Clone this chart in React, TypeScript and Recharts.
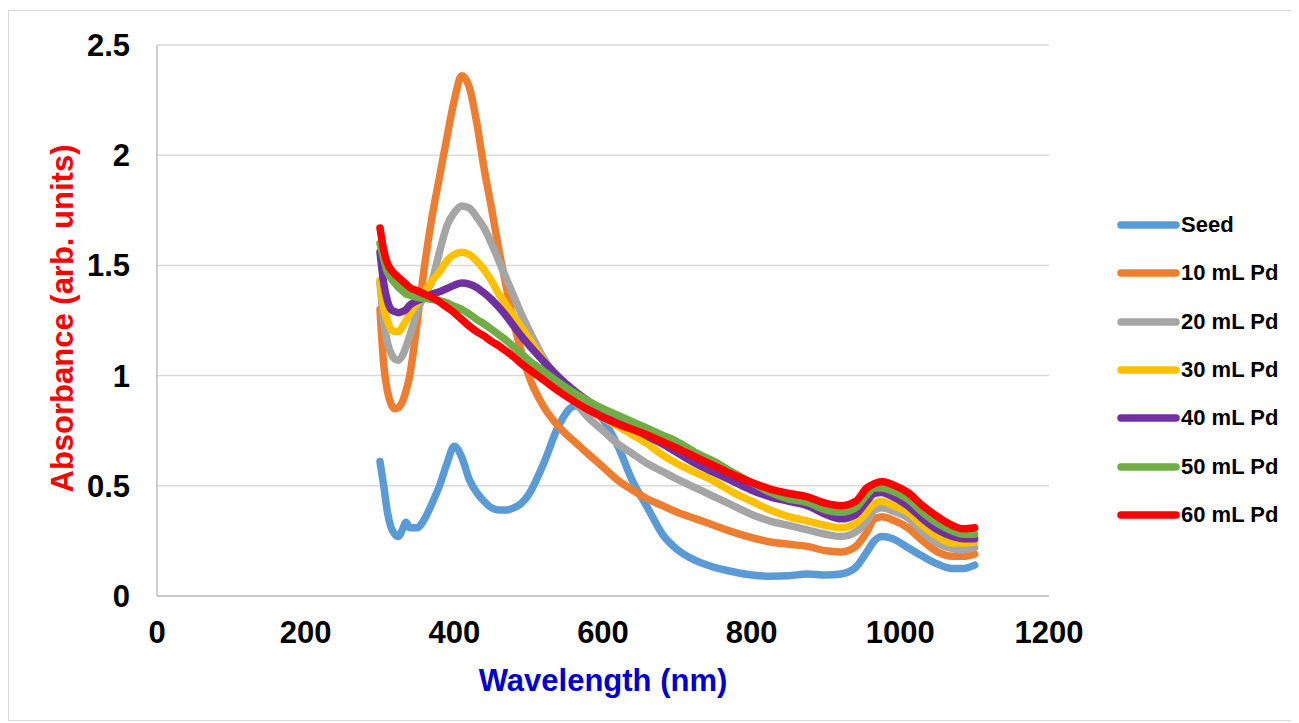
import React from 'react';
import { LineChart, Line, XAxis, YAxis, CartesianGrid, Legend } from 'recharts';

const wavelengths = [300, 305, 310, 315, 320, 325, 330, 335, 340, 350, 360, 370, 380, 390, 400, 410, 420, 430, 440, 450, 460, 470, 480, 490, 500, 520, 540, 560, 580, 600, 620, 640, 660, 680, 700, 725, 750, 775, 800, 825, 850, 875, 900, 920, 940, 955, 965, 975, 990, 1010, 1030, 1050, 1070, 1085, 1100];

const seed = [0.61, 0.50, 0.38, 0.31, 0.28, 0.27, 0.30, 0.335, 0.31, 0.31, 0.35, 0.42, 0.50, 0.60, 0.68, 0.63, 0.53, 0.47, 0.43, 0.40, 0.39, 0.39, 0.40, 0.42, 0.46, 0.60, 0.77, 0.86, 0.87, 0.80, 0.68, 0.52, 0.40, 0.28, 0.21, 0.16, 0.13, 0.11, 0.095, 0.09, 0.092, 0.10, 0.095, 0.10, 0.13, 0.20, 0.25, 0.27, 0.26, 0.22, 0.18, 0.145, 0.125, 0.125, 0.14];
const pd10 = [1.30, 1.05, 0.93, 0.87, 0.85, 0.855, 0.88, 0.93, 1.00, 1.24, 1.50, 1.72, 1.90, 2.08, 2.25, 2.36, 2.31, 2.15, 1.94, 1.76, 1.57, 1.40, 1.24, 1.11, 1.00, 0.86, 0.77, 0.705, 0.645, 0.585, 0.525, 0.48, 0.44, 0.41, 0.38, 0.35, 0.32, 0.29, 0.265, 0.245, 0.235, 0.225, 0.205, 0.20, 0.225, 0.29, 0.35, 0.36, 0.345, 0.31, 0.25, 0.20, 0.18, 0.18, 0.19];
const pd20 = [1.42, 1.25, 1.15, 1.10, 1.075, 1.07, 1.09, 1.13, 1.18, 1.29, 1.37, 1.43, 1.56, 1.68, 1.74, 1.77, 1.76, 1.72, 1.67, 1.60, 1.52, 1.44, 1.36, 1.28, 1.21, 1.08, 0.98, 0.89, 0.81, 0.75, 0.69, 0.645, 0.60, 0.565, 0.53, 0.49, 0.45, 0.41, 0.37, 0.34, 0.32, 0.30, 0.28, 0.27, 0.29, 0.34, 0.39, 0.40, 0.385, 0.355, 0.29, 0.24, 0.215, 0.21, 0.22];
const pd30 = [1.43, 1.31, 1.25, 1.21, 1.20, 1.20, 1.22, 1.25, 1.28, 1.33, 1.38, 1.43, 1.47, 1.52, 1.55, 1.56, 1.55, 1.52, 1.48, 1.43, 1.37, 1.32, 1.27, 1.22, 1.17, 1.07, 0.985, 0.915, 0.86, 0.81, 0.77, 0.73, 0.69, 0.64, 0.60, 0.56, 0.52, 0.47, 0.43, 0.39, 0.36, 0.34, 0.32, 0.31, 0.33, 0.38, 0.42, 0.43, 0.41, 0.38, 0.32, 0.27, 0.24, 0.24, 0.245];
const pd40 = [1.56, 1.42, 1.34, 1.30, 1.29, 1.285, 1.29, 1.30, 1.32, 1.34, 1.355, 1.37, 1.38, 1.395, 1.41, 1.42, 1.415, 1.40, 1.375, 1.345, 1.31, 1.27, 1.225, 1.18, 1.14, 1.065, 0.995, 0.935, 0.885, 0.84, 0.80, 0.765, 0.725, 0.69, 0.65, 0.60, 0.56, 0.52, 0.48, 0.45, 0.43, 0.41, 0.37, 0.35, 0.37, 0.43, 0.465, 0.47, 0.45, 0.41, 0.35, 0.30, 0.27, 0.26, 0.26];
const pd50 = [1.60, 1.53, 1.47, 1.44, 1.42, 1.40, 1.385, 1.37, 1.365, 1.355, 1.35, 1.345, 1.34, 1.33, 1.315, 1.30, 1.28, 1.255, 1.235, 1.21, 1.185, 1.16, 1.13, 1.10, 1.07, 1.02, 0.97, 0.925, 0.885, 0.85, 0.82, 0.79, 0.76, 0.73, 0.70, 0.65, 0.61, 0.56, 0.515, 0.47, 0.44, 0.425, 0.39, 0.38, 0.40, 0.46, 0.49, 0.49, 0.475, 0.44, 0.38, 0.33, 0.295, 0.28, 0.28];
const pd60 = [1.67, 1.57, 1.51, 1.48, 1.46, 1.445, 1.43, 1.415, 1.40, 1.385, 1.37, 1.355, 1.335, 1.31, 1.285, 1.255, 1.225, 1.20, 1.18, 1.155, 1.135, 1.11, 1.085, 1.055, 1.03, 0.98, 0.93, 0.885, 0.845, 0.81, 0.78, 0.755, 0.73, 0.70, 0.67, 0.63, 0.59, 0.55, 0.515, 0.485, 0.465, 0.45, 0.42, 0.41, 0.43, 0.49, 0.51, 0.52, 0.505, 0.47, 0.41, 0.36, 0.32, 0.305, 0.31];

const seriesNames = ['Seed', '10 mL Pd', '20 mL Pd', '30 mL Pd', '40 mL Pd', '50 mL Pd', '60 mL Pd'];
const seriesValues = [seed, pd10, pd20, pd30, pd40, pd50, pd60];
const seriesColors = ['#5B9BD5', '#ED7D31', '#A5A5A5', '#FFC000', '#7030A0', '#70AD47', '#FF0000'];

const xTicks = [0, 200, 400, 600, 800, 1000, 1200];
const yTicks = [0, 0.5, 1, 1.5, 2, 2.5];

const data = wavelengths.map((w, i) => {
  const row: Record<string, number> = { wl: w };
  seriesNames.forEach((n, k) => {
    row[n] = seriesValues[k][i];
  });
  return row;
});

const FONT = '"Liberation Sans", Arial, sans-serif';

const renderLegend = () => (
  <div style={{ fontFamily: FONT }}>
    {seriesNames.map((n, k) => (
      <div key={n} style={{ display: 'flex', alignItems: 'center', height: 48.3 }}>
        <svg width={64} height={10} style={{ display: 'block' }}>
          <line x1={4} y1={5} x2={59} y2={5} stroke={seriesColors[k]} strokeWidth={7.5} strokeLinecap="round" />
        </svg>
        <span style={{ fontSize: 22, fontWeight: 'bold', color: '#000', whiteSpace: 'nowrap' }}>{n}</span>
      </div>
    ))}
  </div>
);

const YLabel = (props: any) => {
  const vb = props.viewBox || {};
  const x = vb.x + 5;
  const y = vb.y + vb.height / 2 - 2;
  return (
    <text
      x={x}
      y={y}
      transform={`rotate(-90, ${x}, ${y})`}
      textAnchor="middle"
      dominantBaseline="central"
      fill="#FF0000"
      fontSize={31}
      fontWeight="bold"
      fontFamily={FONT}
    >
      Absorbance (arb. units)
    </text>
  );
};

const XLabel = (props: any) => {
  const vb = props.viewBox || {};
  const x = vb.x + vb.width / 2;
  const y = vb.y + 84;
  return (
    <text
      x={x}
      y={y}
      textAnchor="middle"
      dominantBaseline="central"
      fill="#0000CC"
      fontSize={31}
      fontWeight="bold"
      fontFamily={FONT}
    >
      Wavelength (nm)
    </text>
  );
};

export default function App() {
  return (
    <div
      style={{
        width: 1287,
        height: 709,
        border: '1px solid #D9D9D9',
        marginTop: 2,
        background: '#fff',
      }}
    >
      <LineChart
        width={1287}
        height={709}
        data={data}
        margin={{ top: 34, right: 247, left: 48, bottom: 64 }}
      >
        <CartesianGrid vertical={false} stroke="#D9D9D9" strokeWidth={1.5} />
        <XAxis
          dataKey="wl"
          type="number"
          domain={[0, 1200]}
          ticks={xTicks}
          interval={0}
          height={60}
          tickLine={false}
          tickSize={0}
          tickMargin={25}
          axisLine={{ stroke: '#BFBFBF', strokeWidth: 1.5 }}
          tick={{ fill: '#000', fontSize: 31, fontWeight: 'bold', fontFamily: FONT }}
          label={<XLabel />}
        />
        <YAxis
          type="number"
          domain={[0, 2.5]}
          ticks={yTicks}
          interval={0}
          width={100}
          tickLine={false}
          tickSize={0}
          tickMargin={27}
          axisLine={{ stroke: '#BFBFBF', strokeWidth: 1.5 }}
          tick={{ fill: '#000', fontSize: 31, fontWeight: 'bold', fontFamily: FONT }}
          label={<YLabel />}
        />
        <Legend
          layout="vertical"
          content={renderLegend}
          wrapperStyle={{ position: 'absolute', left: 1108, top: 190, width: 180, height: 0, overflow: 'visible' }}
        />
        {seriesNames.map((n, k) => (
          <Line
            key={n}
            type="monotone"
            dataKey={n}
            stroke={seriesColors[k]}
            strokeWidth={7.5}
            strokeLinecap="round"
            strokeLinejoin="round"
            dot={false}
            activeDot={false}
            isAnimationActive={false}
          />
        ))}
      </LineChart>
    </div>
  );
}
